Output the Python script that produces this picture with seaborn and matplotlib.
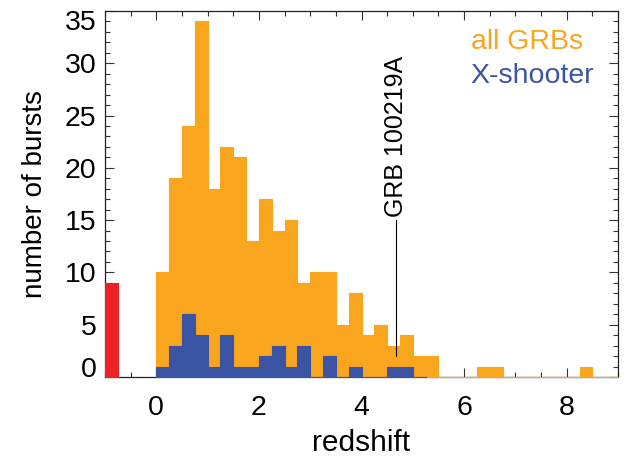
import numpy as np
import pandas as pd
import seaborn as sns
import matplotlib.pyplot as plt
from matplotlib.ticker import MultipleLocator
from matplotlib.transforms import ScaledTranslation

# histogram counts, bins of 0.25 in redshift
bin_width = 0.25
all_grbs = [10, 19, 24, 34, 18, 22, 21, 13, 17, 14, 15, 9,
            10, 10, 5, 8, 4, 5, 3, 4, 2, 2, 0, 0,
            0, 1, 1, 0, 0, 0, 0, 0, 0, 1, 0, 0]
xshooter = [1, 3, 6, 4, 1, 4, 1, 1, 2, 3, 1, 3,
            0, 2, 0, 1, 0, 0, 1, 1, 0]
no_redshift = [9]          # bursts without redshift, shown left of zero
no_redshift_start = -1.0
grb_name = "GRB 100219A"
grb_z = 4.667
grb_line = [2, 15]

orange = "#F9A51E"
blue = "#3B53A3"
red = "#EC2227"

sns.set_style("ticks")
plt.rcParams["font.family"] = ["Liberation Sans", "DejaVu Sans"]
plt.rcParams["text.color"] = "black"
plt.rcParams["axes.labelcolor"] = "black"
plt.rcParams["xtick.labelcolor"] = "black"
plt.rcParams["ytick.labelcolor"] = "black"

fig = plt.figure(figsize=(6.28, 4.58), dpi=100)
ax = fig.add_axes([0.1672, 0.1769, 0.8169, 0.7991])


def draw_hist(counts, start, color):
    n = len(counts)
    centers = start + bin_width * (np.arange(n) + 0.5)
    df = pd.DataFrame({"z": centers, "n": counts})
    sns.histplot(data=df, x="z", weights="n", binwidth=bin_width,
                 binrange=(start, start + n * bin_width), element="step",
                 fill=True, color=color, alpha=1, linewidth=0.8,
                 zorder=3, ax=ax)


draw_hist(all_grbs, 0.0, orange)
draw_hist(xshooter, 0.0, blue)
draw_hist(no_redshift, no_redshift_start, red)

# marker for GRB 100219A
ax.plot([grb_z, grb_z], grb_line, color="black", lw=0.8, zorder=4)
ax.text(grb_z, grb_line[1] + 0.3, grb_name, rotation=90, ha="center",
        va="bottom", fontsize=18, color="black", zorder=4)

# legend as coloured text
ax.text(0.713, 0.896, "all GRBs", color=orange, fontsize=20.5,
        transform=ax.transAxes, va="baseline", ha="left")
ax.text(0.713, 0.803, "X-shooter", color=blue, fontsize=20.5,
        transform=ax.transAxes, va="baseline", ha="left")

ax.set_xlim(-1, 9)
ax.set_ylim(0, 35)
ax.xaxis.set_major_locator(MultipleLocator(2))
ax.xaxis.set_minor_locator(MultipleLocator(0.5))
ax.yaxis.set_major_locator(MultipleLocator(5))
ax.yaxis.set_minor_locator(MultipleLocator(1))

ax.tick_params(which="both", direction="in", top=True, right=True,
               color="#333333", width=0.8, labelsize=20.5, labelcolor="black")
ax.tick_params(which="major", length=6.5)
ax.tick_params(which="minor", length=3.6)
ax.tick_params(axis="x", which="major", pad=13)
ax.tick_params(axis="y", which="major", pad=6)

for side in ax.spines.values():
    side.set_linewidth(0.9)
    side.set_color("#222222")

ax.set_xlabel("redshift", fontsize=21.5, labelpad=6, color="black")
ax.set_ylabel("number of bursts", fontsize=20, labelpad=12, color="black")

# IDL-style nudge of the end labels on the y axis
fig.canvas.draw()
for lab in ax.get_yticklabels():
    txt = lab.get_text()
    if txt == "0":
        lab.set_transform(lab.get_transform() + ScaledTranslation(0, 0.10, fig.dpi_scale_trans))
    elif txt == "35":
        lab.set_transform(lab.get_transform() + ScaledTranslation(0, -0.09, fig.dpi_scale_trans))

plt.savefig("out.png", dpi=100)
